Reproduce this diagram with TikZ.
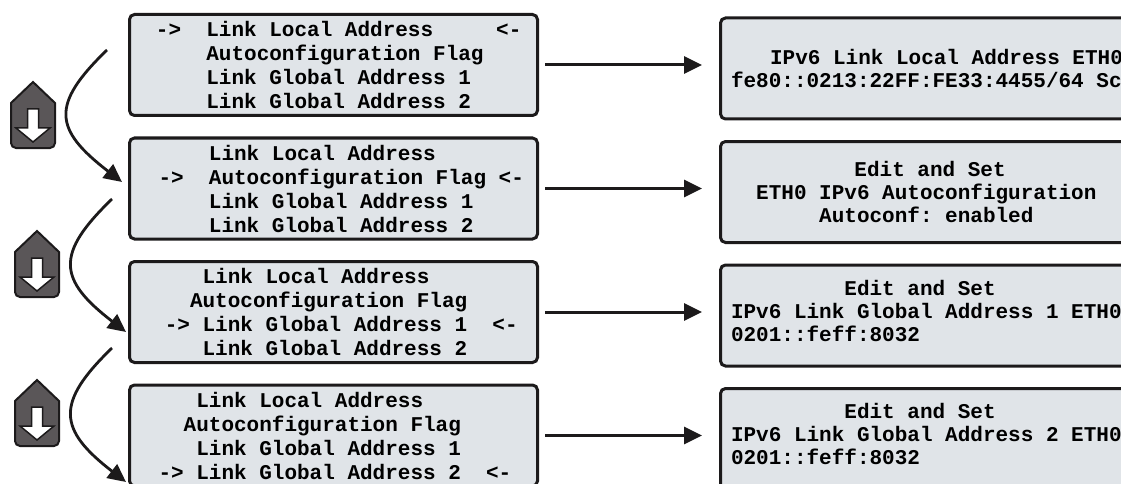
\documentclass[tikz,border=0pt]{standalone}
\usepackage{fontspec}
\setmonofont{Liberation Mono}
\usetikzlibrary{positioning, arrows.meta}

\definecolor{lcdfill}{RGB}{224,228,232}
\definecolor{keyfill}{RGB}{90,86,88}
\definecolor{inkblack}{RGB}{28,26,27}

% one display row, indented by a number of character cells
\newcommand{\lcdline}[2]{\mbox{\spaceskip=0pt\xspaceskip=0pt%
    \hspace*{#1\dimexpr 0.6em\relax}#2}}

\begin{document}
\begin{tikzpicture}[
    x=1pt, y=1pt,
    node distance=22.5pt,
    lcd/.style={rectangle, draw=inkblack, line width=3pt, fill=lcdfill,
        rounded corners=5pt, outer sep=0pt, inner ysep=0pt, align=left,
        font=\fontsize{21}{24}\selectfont\ttfamily\bfseries},
    menu/.style={lcd, minimum width=408pt, minimum height=101pt,
        text width=350pt, inner xsep=29pt},
    detail/.style={lcd, minimum width=430pt, minimum height=101pt,
        text width=409pt, inner xsep=10.5pt,
        font=\fontsize{21}{23}\selectfont\ttfamily\bfseries},
    link/.style={-{Triangle[length=18pt, width=17pt]}, line width=3pt,
        draw=inkblack, shorten <=7.5pt, shorten >=18.5pt},
    scroll/.style={-{Triangle[length=18pt, width=17pt]}, line width=2.8pt,
        draw=inkblack},
    keybody/.style={draw=inkblack, line width=2pt, fill=keyfill},
    keyarrow/.style={draw=inkblack, line width=1.5pt, fill=white},
    downkey/.pic={
        \draw[keybody] (0,0) -- (22,-21) -- (22,-61)
            arc[start angle=0, end angle=-90, radius=5] -- (-17,-66)
            arc[start angle=270, end angle=180, radius=5] -- (-22,-21) -- cycle;
        \draw[keyarrow] (-5.5,-27) -- (5.5,-27) -- (5.5,-46) -- (17,-46)
            -- (0,-60) -- (-17,-46) -- (-5.5,-46) -- cycle;
    }
]
\useasboundingbox (0,0) rectangle (1121,-484);
\clip (0,0) rectangle (1121,-484);

% Menu screens
\node[menu] (l1) at (333.5,-65) {%
    \lcdline{-0.2}{->~~Link Local Address~~~~~<-}\\
    \lcdline{3.8}{Autoconfiguration Flag}\\
    \lcdline{3.8}{Link Global Address 1}\\
    \lcdline{3.8}{Link Global Address 2}};
\node[menu, below=of l1] (l2) {%
    \lcdline{4}{Link Local Address}\\
    \lcdline{0}{->~~Autoconfiguration Flag <-}\\
    \lcdline{4}{Link Global Address 1}\\
    \lcdline{4}{Link Global Address 2}};
\node[menu, below=of l2] (l3) {%
    \lcdline{3.5}{Link Local Address}\\
    \lcdline{2.5}{Autoconfiguration Flag}\\
    \lcdline{0.5}{-> Link Global Address 1~~<-}\\
    \lcdline{3.5}{Link Global Address 2}};
\node[menu, below=of l3] (l4) {%
    \lcdline{3}{Link Local Address}\\
    \lcdline{2}{Autoconfiguration Flag}\\
    \lcdline{3}{Link Global Address 1}\\
    \lcdline{0}{-> Link Global Address 2~~<-}};

% Detail screens
\node[detail, right=183pt of l1, yshift=-3.5pt] (r1) {%
    \lcdline{3.1}{IPv6 Link Local Address ETH0}\\
    \lcdline{0}{fe80::0213:22FF:FE33:4455/64 Sc}};
\node[detail, right=183pt of l2, yshift=-3.5pt] (r2) {%
    \lcdline{9.8}{Edit and Set}\\
    \lcdline{2}{ETH0 IPv6 Autoconfiguration}\\
    \lcdline{7}{Autoconf: enabled}};
\node[detail, right=183pt of l3, yshift=-3.5pt] (r3) {%
    \lcdline{9}{Edit and Set}\\
    \lcdline{0}{IPv6 Link Global Address 1 ETH0}\\
    \lcdline{0}{0201::feff:8032\rule[-10pt]{0pt}{10pt}}};
\node[detail, right=183pt of l4, yshift=-3.5pt] (r4) {%
    \lcdline{9}{Edit and Set}\\
    \lcdline{0}{IPv6 Link Global Address 2 ETH0}\\
    \lcdline{0}{0201::feff:8032\rule[-10pt]{0pt}{10pt}}};

% Enter arrows
\draw[link] (l1.east) -- (l1.east -| r1.west);
\draw[link] (l2.east) -- (l2.east -| r2.west);
\draw[link] (l3.east) -- (l3.east -| r3.west);
\draw[link] (l4.east) -- (l4.east -| r4.west);

% Down keys
\pic at (33,-82) {downkey};
\pic at (37,-231) {downkey};
\pic at (37,-380) {downkey};

% Scroll arrows
\coordinate (s1) at (107,-50);
\coordinate (e1) at ([shift={(-7.5,6.5)}]l2.west);
\coordinate (s2) at (112,-199);
\coordinate (e2) at ([shift={(-3.5,-20)}]l3.west);
\coordinate (s3) at (112,-348);
\coordinate (e3) at ([shift={(-3.5,-46.5)}]l4.west);
\draw[scroll] (s1) .. controls +(-57,-55) and +(-68,52.5) .. (e1);
\draw[scroll] (s2) .. controls +(-57,-55) and +(-68,52.5) .. (e2);
\draw[scroll] (s3) .. controls +(-57,-55) and +(-68,52.5) .. (e3);

\end{tikzpicture}
\end{document}
